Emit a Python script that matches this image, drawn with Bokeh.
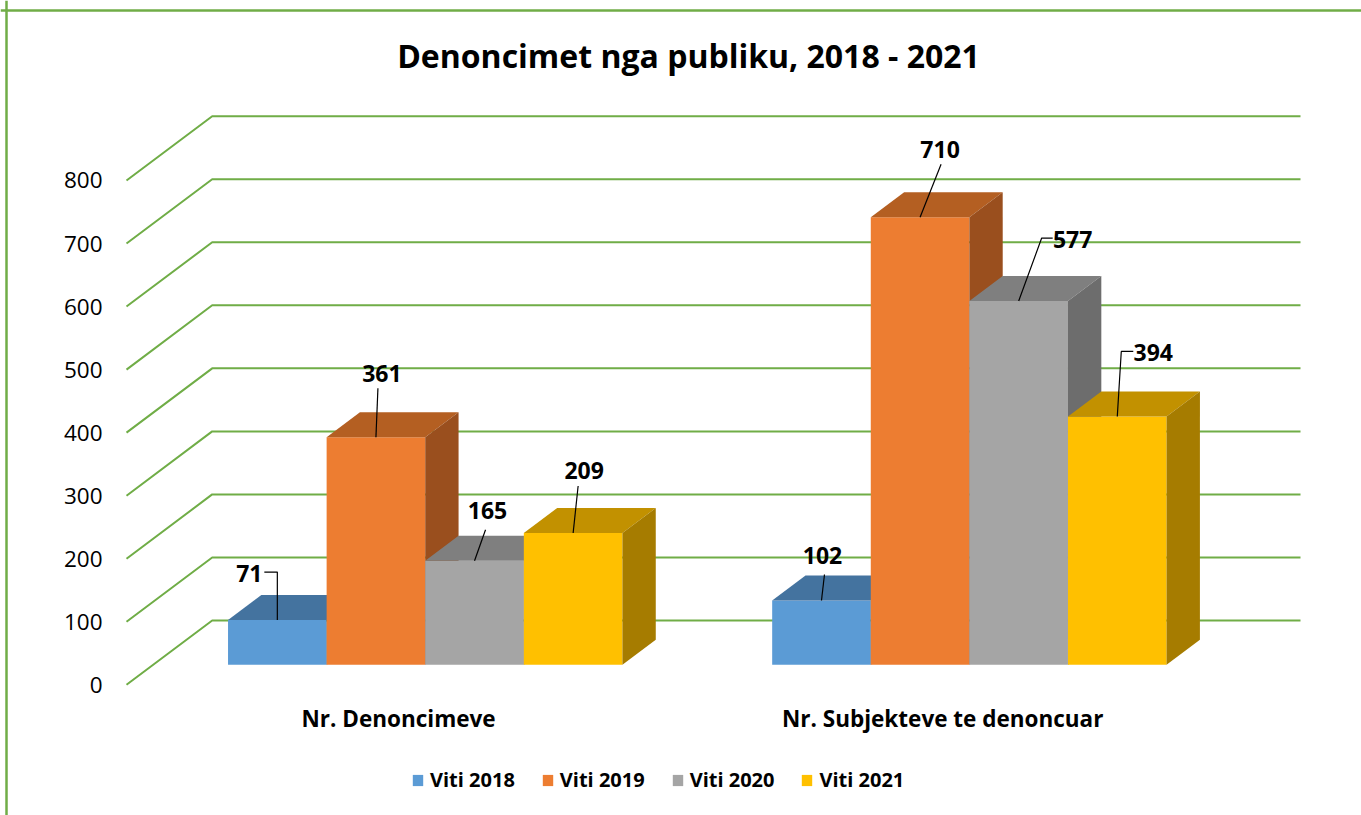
import numpy as np
from bokeh.plotting import figure
from bokeh.models import Range1d, Span, Label, Legend, LegendItem
from bokeh.core.properties import value
from bokeh.embed import file_html
from bokeh.resources import INLINE

# ---------------- data ----------------
title_text = "Denoncimet nga publiku, 2018 - 2021"
categories = ["Nr. Denoncimeve", "Nr. Subjekteve te denoncuar"]
series_names = ["Viti 2018", "Viti 2019", "Viti 2020", "Viti 2021"]
viti_2018 = [71, 102]
viti_2019 = [361, 710]
viti_2020 = [165, 577]
viti_2021 = [209, 394]
y_ticks = [0, 100, 200, 300, 400, 500, 600, 700, 800]

# ---------------- styles ----------------
front_colors = ["#5B9BD5", "#ED7D31", "#A5A5A5", "#FFC000"]
top_colors = ["#44739F", "#B45F22", "#7F7F7F", "#C29100"]
side_colors = ["#38628A", "#9A4F1E", "#6D6D6D", "#A67C00"]
GRID = "#70AD47"
FONT = "Open Sans"

W, H = 1361, 815
PAGE = 0
X0_PX, SX = 126.0, 544.15      # page px of category origin, px per category
Y0_PX, SY = 684.3, 0.6304      # page px of value 0 (front plane), px per unit
DEPTH_X, DEPTH_Y = 0.1575, 102.0   # full depth vector in data units
D_FRONT, D_BACK = 0.311, 0.70
GAP = 0.1376
BAR_W = (1 - 2 * GAP) / 4

xmin = (PAGE - X0_PX) / SX
xmax = xmin + W / SX
ymax = (Y0_PX - PAGE) / SY
ymin = ymax - H / SY


def px_x(px):
    return xmin + (px - PAGE) / SX


def px_y(py):
    return ymax - (py - PAGE) / SY


p = figure(width=W, height=H, x_range=Range1d(xmin, xmax), y_range=Range1d(ymin, ymax),
           output_backend="svg", toolbar_location=None, min_border=0,
           x_axis_location=None, y_axis_location=None)
p.grid.visible = False
p.outline_line_color = None
p.background_fill_color = "white"

# border (top & left)
p.add_layout(Span(location=px_y(10), dimension="width", line_color=GRID, line_width=2.5))
p.add_layout(Span(location=px_x(6), dimension="height", line_color=GRID, line_width=2.5))

# gridlines: slanted side wall + back wall
ncat = len(categories)
gx = [[0, DEPTH_X, ncat + DEPTH_X] for t in y_ticks]
gy = [[t, t + DEPTH_Y, t + DEPTH_Y] for t in y_ticks]
p.multi_line(gx, gy, line_color=GRID, line_width=2)

# tick labels
p.text(x=[px_x(102)] * len(y_ticks), y=y_ticks, text=[str(t) for t in y_ticks],
       text_align="right", text_baseline="middle", text_font=value(FONT),
       text_font_size="22.5px", text_color="black")

# bars
values = [viti_2018, viti_2019, viti_2020, viti_2021]
ox, oy = D_FRONT * DEPTH_X, D_FRONT * DEPTH_Y
ddx, ddy = (D_BACK - D_FRONT) * DEPTH_X, (D_BACK - D_FRONT) * DEPTH_Y

# data-label offsets (screen px, relative to front-top centre of bar) and leader paths
label_off = [[(-28, -47), (1, -45)],
             [(6, -64), (20, -68)],
             [(13, -50), (54, -62)],
             [(11, -63), (36, -64)]]
leader_paths = [[[(0, 0), (0, -48), (-13, -48)], [(0, 0), (3, -26)]],
                [[(0, 0), (2, -49)], [(0, 0), (21, -53)]],
                [[(0, 0), (11, -31)], [(0, 0), (23, -63), (34, -63)]],
                [[(0, 0), (5, -47)], [(0, 0), (4, -65), (16, -65)]]]

legend_items = []
lab_x, lab_y, lab_t, lab_dx, lab_dy = [], [], [], [], []
lead_xs, lead_ys = [], []
for s, (name, vals) in enumerate(zip(series_names, values)):
    vals = np.array(vals, dtype=float)
    cx = np.arange(ncat)
    left = cx + GAP + s * BAR_W + ox
    right = left + BAR_W
    bottom = np.full_like(vals, oy)
    top = vals + oy
    r = p.quad(left=left, right=right, bottom=bottom, top=top,
               fill_color=front_colors[s], line_color=None)
    p.patches([[l, rr, rr + ddx, l + ddx] for l, rr in zip(left, right)],
              [[t, t, t + ddy, t + ddy] for t in top],
              fill_color=top_colors[s], line_color=None)
    p.patches([[rr, rr + ddx, rr + ddx, rr] for rr in right],
              [[b, b + ddy, t + ddy, t] for b, t in zip(bottom, top)],
              fill_color=side_colors[s], line_color=None)
    legend_items.append(LegendItem(label=name, renderers=[r]))
    for c in range(ncat):
        ex = (left[c] + right[c]) / 2
        ey = top[c]
        lab_x.append(ex)
        lab_y.append(ey)
        lab_t.append(str(int(vals[c])))
        lab_dx.append(label_off[s][c][0])
        lab_dy.append(label_off[s][c][1])
        lead_xs.append([ex + dx / SX for dx, dy in leader_paths[s][c]])
        lead_ys.append([ey - dy / SY for dx, dy in leader_paths[s][c]])

p.multi_line(lead_xs, lead_ys, line_color="black", line_width=1.2)
p.text(x=lab_x, y=lab_y, text=lab_t, x_offset=lab_dx, y_offset=lab_dy,
       text_align="center", text_baseline="middle", text_font=value(FONT),
       text_font_style="bold", text_font_size="23px", text_color="black")

# category labels
p.text(x=[c + 0.5 for c in range(ncat)], y=[px_y(718)] * ncat, text=categories,
       text_align="center", text_baseline="middle", text_font=value(FONT),
       text_font_style="bold", text_font_size="22.5px", text_color="black")

# title
p.add_layout(Label(x=px_x(688), y=px_y(55), text=title_text, text_align="center",
                   text_baseline="middle", text_font=FONT, text_font_style="bold",
                   text_font_size="32px", text_color="black"))

legend = Legend(items=legend_items, orientation="horizontal", location=(411, 22),
                glyph_width=13, glyph_height=14, label_standoff=6, spacing=26,
                padding=0, margin=0, border_line_color=None, background_fill_alpha=0,
                label_text_font=FONT, label_text_font_style="bold",
                label_text_font_size="20px", label_text_color="black")
p.add_layout(legend)

open("out.html", "w").write(file_html(p, INLINE, title="Denoncimet nga publiku"))
